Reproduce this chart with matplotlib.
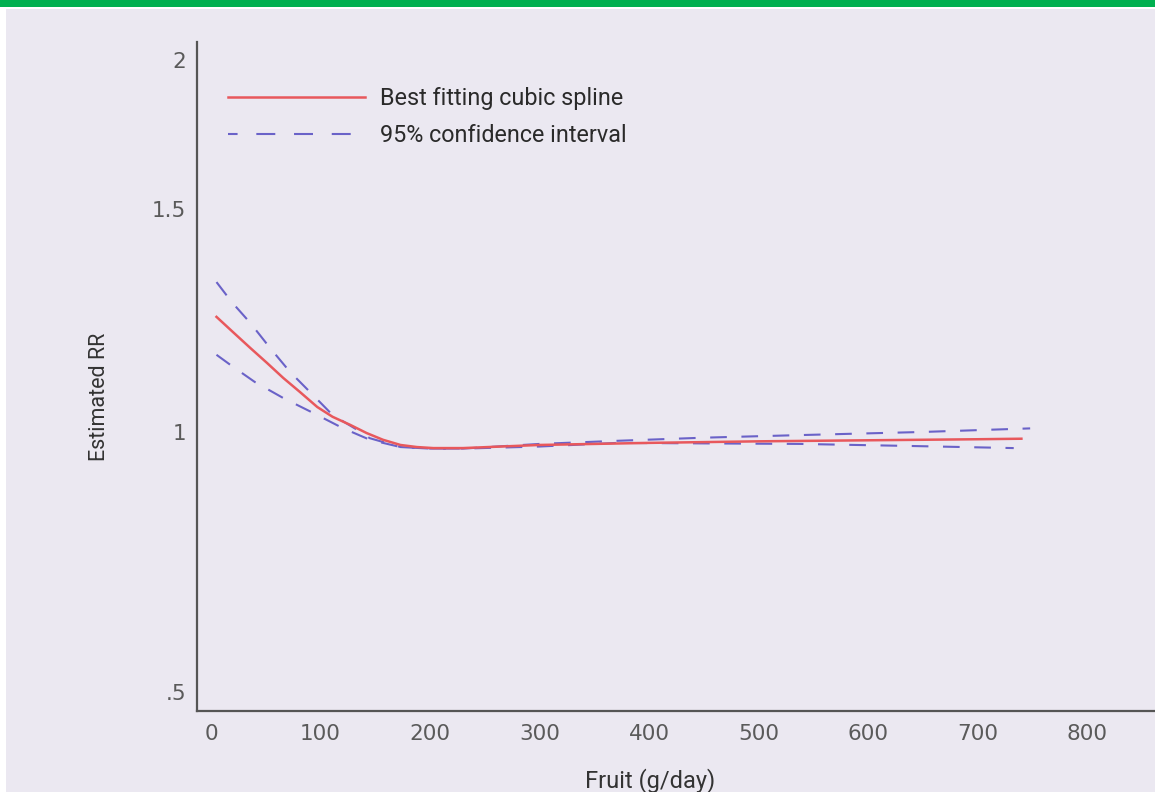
import numpy as np
import matplotlib
matplotlib.use("Agg")
import matplotlib.pyplot as plt
from matplotlib.patches import Rectangle

plt.rcParams['font.family'] = ['Roboto', 'DejaVu Sans']

fit_x = [5, 20, 36, 51, 66, 81, 97, 111, 127, 142, 157, 173, 188, 203, 230, 300, 400, 500, 600, 700, 740]
fit_y = [1.258, 1.224, 1.188, 1.155, 1.121, 1.090, 1.056, 1.034, 1.016, 0.998, 0.985, 0.975, 0.971,
         0.969, 0.969, 0.975, 0.979, 0.982, 0.984, 0.986, 0.987]

upper_x = [5, 19, 36, 54, 72, 93, 111, 134, 145, 173, 200, 230, 300, 371, 450, 538, 650, 748]
upper_y = [1.336, 1.291, 1.244, 1.188, 1.135, 1.083, 1.038, 1.004, 0.988, 0.971, 0.968, 0.968,
           0.977, 0.983, 0.989, 0.994, 1.000, 1.008]

lower_x = [5, 19, 40, 66, 93, 120, 145, 173, 200, 230, 300, 371, 450, 538, 640, 733]
lower_y = [1.173, 1.148, 1.112, 1.076, 1.043, 1.009, 0.985, 0.971, 0.968, 0.968,
           0.972, 0.979, 0.978, 0.977, 0.973, 0.969]

x_ticks = [0, 100, 200, 300, 400, 500, 600, 700, 800]
y_ticks = [0.5, 1, 1.5, 2]
y_ticklabels = ['.5', '1', '1.5', '2']

# the y axis of the original is neither linear nor log: map tick values to their spacing
knots_v = [0.0, 0.5, 1.0, 1.5, 2.0, 3.0]
knots_p = [-260, 0, 260, 483, 632, 930]


def fwd(v):
    return np.interp(v, knots_v, knots_p)


def inv(p):
    return np.interp(p, knots_p, knots_v)


bg = '#ebe8f1'
red = '#e8585c'
blue = '#6a62c8'

fig = plt.figure(figsize=(11.55, 7.92), dpi=100, facecolor='white')
fig.patches.append(Rectangle((6 / 1155, 0), 1, 1 - 9 / 792, transform=fig.transFigure,
                             facecolor=bg, edgecolor='none', zorder=-2))
fig.patches.append(Rectangle((0, 1 - 7 / 792), 1, 7 / 792, transform=fig.transFigure,
                             facecolor='#00b050', edgecolor='none', zorder=-1))

ax = fig.add_axes([197 / 1155, 1 - 711 / 792, 1 - 197 / 1155, (711 - 42) / 792])
ax.set_facecolor('none')
ax.set_yscale('function', functions=(fwd, inv))

ax.plot(fit_x, fit_y, color=red, lw=1.8, label='Best fitting cubic spline', zorder=3)
ax.plot(upper_x, upper_y, color=blue, lw=1.5, dashes=(8, 7), label='95% confidence interval')
ax.plot(lower_x, lower_y, color=blue, lw=1.5, dashes=(8, 7))

ax.set_xlim(-12.8, 862)
ax.set_ylim(0.4635, 2.06)
ax.set_xticks(x_ticks)
ax.set_yticks(y_ticks)
ax.set_yticklabels(y_ticklabels)
ax.yaxis.set_minor_locator(matplotlib.ticker.NullLocator())
ax.tick_params(length=0, labelsize=15.5, labelcolor='#5a5a5a')
ax.tick_params(axis='y', pad=8)
ax.tick_params(axis='x', pad=9)
for lab in ax.get_xticklabels() + ax.get_yticklabels():
    lab.set_family('DejaVu Sans')

for s in ['top', 'right']:
    ax.spines[s].set_visible(False)
for s in ['left', 'bottom']:
    ax.spines[s].set_color('#555555')
    ax.spines[s].set_linewidth(1.6)

ax.set_ylabel('Estimated RR', fontsize=15.5, color='#333333')
ax.yaxis.set_label_coords(-0.091, 0.47)
ax.set_xlabel('Fruit (g/day)', fontsize=17, color='#333333')
ax.xaxis.set_label_coords(0.473, -0.085)

leg = ax.legend(loc='upper left', bbox_to_anchor=(0.032, 0.932), frameon=False,
                fontsize=16.8, handlelength=5.9, handletextpad=0.65, labelspacing=0.58,
                borderaxespad=0, borderpad=0)
for t in leg.get_texts():
    t.set_color('#2a2a2a')
leg.get_lines()[1].set_linestyle((4.5, (9.1, 9)))

fig.savefig('out.png', dpi=100, facecolor=fig.get_facecolor())
